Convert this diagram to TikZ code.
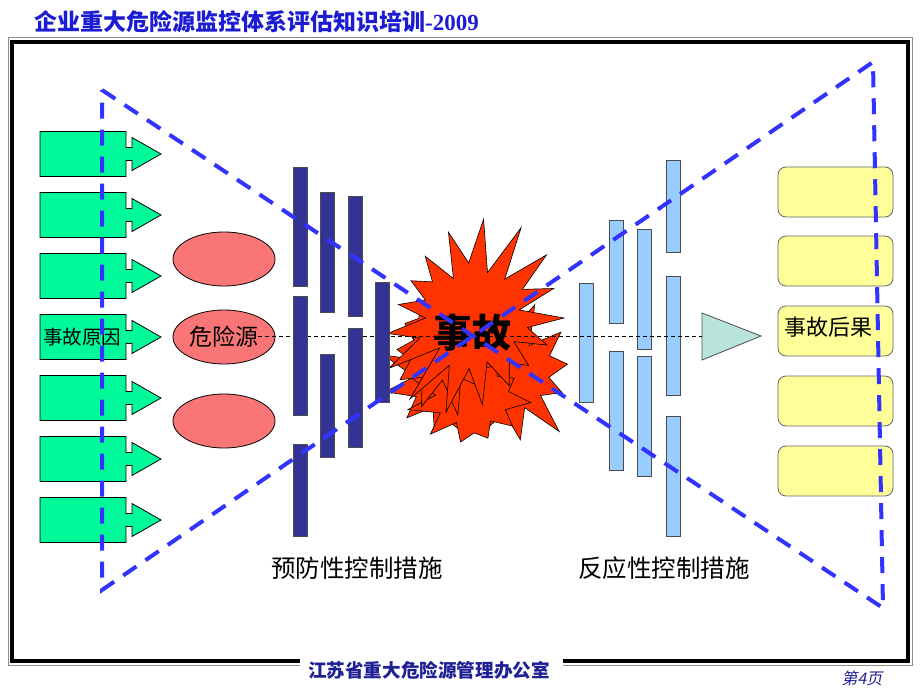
\documentclass[tikz,border=0pt]{standalone}
\usepackage{fontspec}
\setmainfont{Liberation Serif}
\newfontfamily\cjk{Noto Sans CJK SC}
\newfontfamily\cjkit{Noto Sans CJK SC}[FakeSlant=0.2]
\usetikzlibrary{shapes.geometric}
\definecolor{titleblue}{RGB}{28,28,210}
\definecolor{footblue}{RGB}{32,32,150}
\definecolor{sgreen}{RGB}{0,250,154}
\definecolor{salmonpink}{RGB}{250,118,118}
\definecolor{navybar}{RGB}{51,51,150}
\definecolor{lightbar}{RGB}{153,204,255}
\definecolor{pyellow}{RGB}{255,255,153}
\definecolor{boomred}{RGB}{255,51,0}
\definecolor{dashblue}{RGB}{51,51,255}
\definecolor{tricol}{RGB}{184,228,220}
\newcommand\greenarrow[1]{%
  \draw[garrow, shift={(0,#1)}] (40,-22.5) -- (126,-22.5) -- (126,-6.5) -- (132,-6.5) -- (132,-16.5) -- (161,0) -- (132,16.5) -- (132,6.5) -- (126,6.5) -- (126,22.5) -- (40,22.5) -- cycle;}
% cx cy Rx Ry q samples last phase
\newcommand\boomstar[8]{%
  \filldraw[boomst] plot[variable=\t, samples=#6, domain=0:#7]
  ({#1+#3*((1-mod(round(\t),2))*(1+0.18*sin(\t*157+#8))+mod(round(\t),2)*#5*(1+0.12*cos(\t*71+#8)))*cos(\t*360/#6+#8)},
   {#2+#4*((1-mod(round(\t),2))*(1+0.18*sin(\t*157+#8))+mod(round(\t),2)*#5*(1+0.12*cos(\t*71+#8)))*sin(\t*360/#6+#8)}) -- cycle;}
\begin{document}
\begin{tikzpicture}[x=1pt,y=-1pt,
  garrow/.style={draw=black, fill=sgreen, line width=0.8pt, line join=miter},
  hazard/.style={ellipse, draw=black, fill=salmonpink, line width=0.8pt, minimum width=102, minimum height=54, inner sep=0},
  navyblock/.style={draw=black!70, fill=navybar, line width=0.8pt, minimum width=14, inner sep=0},
  lightblock/.style={draw=black!70, fill=lightbar, line width=0.8pt, minimum width=14, inner sep=0},
  ybox/.style={draw=black!60, fill=pyellow, line width=0.8pt, rounded corners=8, minimum width=115, minimum height=50, inner sep=0},
  boomst/.style={draw=black, fill=boomred, line width=0.6pt, line join=miter},
  blackdash/.style={draw=black, line width=0.8pt, dash pattern=on 4pt off 3pt},
  bluedash/.style={draw=dashblue, line width=4pt, dash pattern=on 16pt off 11pt},
  lbl/.style={font=\cjk\fontsize{24.5}{26}\selectfont, inner sep=0},
  txt/.style={font=\cjk, inner sep=0}]
\useasboundingbox (0,0) rectangle (920,690);
\fill[white] (0,0) rectangle (920,690);
% frame
\draw[black!45, line width=1pt] (300,665) -- (8,665) -- (8,38) -- (912,38) -- (912,665) -- (563,665);
\draw[black, line width=4pt] (300,661) -- (12,661) -- (12,42) -- (908,42) -- (908,661) -- (563,661);
% title & footer
\node[anchor=west, inner sep=0, text=titleblue] (title) at (34,22)
  {\cjk\bfseries\fontsize{23}{25}\selectfont 企业重大危险源监控体系评估知识培训\rmfamily\bfseries -2009};
\node[inner sep=0, text=footblue] (footer) at (429,670) {\cjk\bfseries\fontsize{18.6}{20}\selectfont 江苏省重大危险源管理办公室};
\node[inner sep=0, text=footblue] (page) at (862,678) {\cjkit\fontsize{16}{18}\selectfont 第\textit{4}页};
% causes
\greenarrow{154}\greenarrow{215}\greenarrow{276}\greenarrow{337}\greenarrow{398}\greenarrow{459}\greenarrow{520}
\node[txt, font=\cjk\fontsize{19.5}{21}\selectfont] (cause) at (82,337) {事故原因};
% hazards
\node[hazard] (h1) at (224,259) {};
\node[hazard, font=\cjk\fontsize{23}{25}\selectfont] (h2) at (224,337) {危险源};
\node[hazard] (h3) at (224,421) {};
% explosion
\boomstar{452}{380}{62}{62}{0.6}{24}{23}{20}
\boomstar{508}{374}{70}{66}{0.6}{24}{23}{50}
\boomstar{472}{398}{58}{52}{0.6}{22}{21}{5}
\boomstar{446}{348}{58}{58}{0.62}{22}{21}{80}
\boomstar{474}{318}{90}{86}{0.58}{34}{33}{0}
% light (reactive) bars
\node[lightblock, minimum height=119] (ra1) at (586.5,342.5) {};
\node[lightblock, minimum height=103] (rb1) at (616,271.5) {};
\node[lightblock, minimum height=119] (rb2) at (616,410.5) {};
\node[lightblock, minimum height=120] (rc1) at (644,289) {};
\node[lightblock, minimum height=120] (rc2) at (644,416) {};
\node[lightblock, minimum height=92] (rd1) at (673,206) {};
\node[lightblock, minimum height=119] (rd2) at (673,335.5) {};
\node[lightblock, minimum height=120] (rd3) at (673,476) {};
% triangle and outcome boxes
\coordinate (t1) at (702,313); \coordinate (t2) at (761,336); \coordinate (t3) at (702,360);
\draw[draw=black!70, fill=tricol, line width=0.8pt] (t1) -- (t2) -- (t3) -- cycle;
\node[ybox] (o1) at (835.5,192) {};
\node[ybox] (o2) at (835.5,261) {};
\node[ybox] (o3) at (835.5,331) {};
\node[ybox] (o4) at (835.5,401) {};
\node[ybox] (o5) at (835.5,471) {};
\node[txt, anchor=west, font=\cjk\fontsize{22}{24}\selectfont] (outc) at (784,327) {事故后果};
% centre dashed line
\coordinate (ls) at (258,336); \coordinate (le) at (702,336);
\draw[blackdash] (ls) -- (le);
% navy (preventive) bars
\node[navyblock, minimum height=119] (pa1) at (300,226.5) {};
\node[navyblock, minimum height=119] (pa2) at (300,355.5) {};
\node[navyblock, minimum height=92] (pa3) at (300,490) {};
\node[navyblock, minimum height=120] (pb1) at (327.5,252) {};
\node[navyblock, minimum height=103] (pb2) at (327.5,405.5) {};
\node[navyblock, minimum height=120] (pc1) at (355,256) {};
\node[navyblock, minimum height=119] (pc2) at (355,387.5) {};
\node[navyblock, minimum height=120] (pd1) at (382.5,342) {};
% accident text
\node[txt, font=\cjk\bfseries\fontsize{39}{41}\selectfont] (acc) at (472,333) {事故};
% labels
\node[lbl] (prev) at (357,568) {预防性控制措施};
\node[lbl] (resp) at (664,568) {反应性控制措施};
% blue bow-tie
\coordinate (tl) at (102,90); \coordinate (br) at (883,608);
\coordinate (tr) at (873,62); \coordinate (bl) at (102,590);
\draw[bluedash] (tl) -- (br) -- (tr) -- (bl) -- cycle;
\end{tikzpicture}
\end{document}
